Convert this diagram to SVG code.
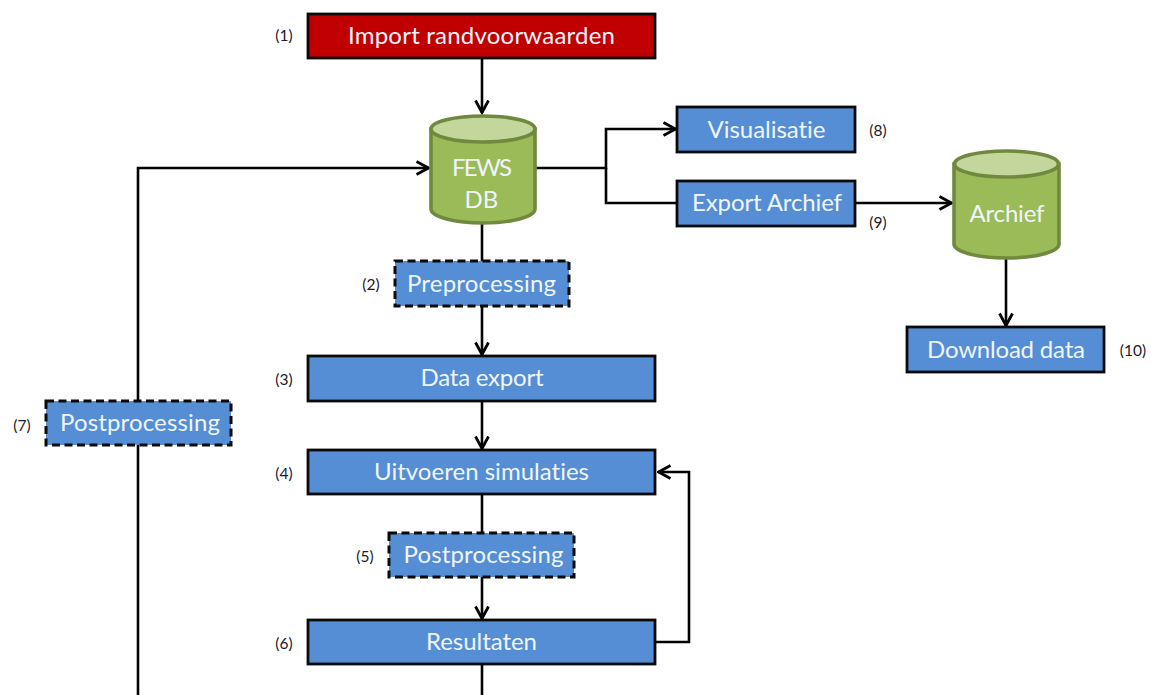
<svg xmlns="http://www.w3.org/2000/svg" width="1158" height="695" viewBox="0 0 1158 695">
<style>
.b{fill:#558ed5;stroke:#0a0a0a;stroke-width:2.8}
.d{stroke-width:3;stroke-dasharray:8 4.500}
.r{fill:#c00000}
.c{fill:#9bbb59;stroke:#71893f;stroke-width:3.6}
.t{fill:#c3d69b;stroke:#71893f;stroke-width:3.6}
.l{font-family:Lato,"Open Sans",sans-serif;font-size:24px;fill:#f0f5fb;text-anchor:middle;font-variant-ligatures:none}
.n{font-family:Lato,"Open Sans",sans-serif;font-size:15.5px;fill:#1a1a2a;text-anchor:middle}
.w{fill:none;stroke:#000;stroke-width:2.6}
</style>
<defs><marker id="a" viewBox="0 0 16 16" refX="14.500" refY="8" markerUnits="userSpaceOnUse" markerWidth="16" markerHeight="16" orient="auto"><path d="M2 1.500L14 8L2 14.500" fill="none" stroke="#000" stroke-width="2.800"/></marker></defs>
<g id="connectors">
<path class="w" d="M482 58V113" marker-end="url(#a)"/>
<path class="w" d="M482 223V261"/>
<path class="w" d="M482 306V355" marker-end="url(#a)"/>
<path class="w" d="M482 401V449" marker-end="url(#a)"/>
<path class="w" d="M482 494V533"/>
<path class="w" d="M482 577V619" marker-end="url(#a)"/>
<path class="w" d="M482 664V695"/>
<path class="w" d="M138 695V445"/>
<path class="w" d="M138 401V168H429" marker-end="url(#a)"/>
<path class="w" d="M536 168H606V129H676" marker-end="url(#a)"/>
<path class="w" d="M606 168V203H677"/>
<path class="w" d="M855 203H952" marker-end="url(#a)"/>
<path class="w" d="M1006 258V326" marker-end="url(#a)"/>
<path class="w" d="M655 642H689V472H658" marker-end="url(#a)"/>
</g>
<g id="n1"><rect class="b r" x="308" y="14" width="347" height="44"/><text class="l" x="481.500" y="44" textLength="267">Import randvoorwaarden</text><text class="n" x="284" y="40.500">(1)</text></g>
<g id="fews"><path class="c" d="M431 129V209C431 217 455 223 483 223C511 223 535 217 535 209V129Z"/><ellipse class="t" cx="483" cy="129" rx="52" ry="13"/><text class="l" x="482" y="176" textLength="60">FEWS</text><text class="l" x="481.500" y="208">DB</text></g>
<g id="n2"><rect class="b d" x="395" y="261" width="174" height="45"/><text class="l" x="481.500" y="292" textLength="149">Preprocessing</text><text class="n" x="371" y="289.500">(2)</text></g>
<g id="n3"><rect class="b" x="308" y="356" width="347" height="45"/><text class="l" x="482" y="385.500" textLength="123">Data export</text><text class="n" x="284" y="384.500">(3)</text></g>
<g id="n4"><rect class="b" x="308" y="450" width="347" height="44"/><text class="l" x="481.500" y="479.500" textLength="215">Uitvoeren simulaties</text><text class="n" x="284" y="478.500">(4)</text></g>
<g id="n5"><rect class="b d" x="389" y="533" width="185" height="44"/><text class="l" x="483.500" y="563" textLength="160">Postprocessing</text><text class="n" x="365" y="561.500">(5)</text></g>
<g id="n6"><rect class="b" x="308" y="620" width="347" height="44"/><text class="l" x="481.500" y="649.500" textLength="111">Resultaten</text><text class="n" x="284" y="648.500">(6)</text></g>
<g id="n7"><rect class="b d" x="46" y="401" width="185" height="44"/><text class="l" x="140" y="431" textLength="160">Postprocessing</text><text class="n" x="22" y="430.500">(7)</text></g>
<g id="n8"><rect class="b" x="677" y="107" width="178" height="45"/><text class="l" x="766.500" y="138" textLength="118">Visualisatie</text><text class="n" x="878" y="135.500">(8)</text></g>
<g id="n9"><rect class="b" x="677" y="181" width="178" height="45"/><text class="l" x="767" y="211" textLength="150">Export Archief</text><text class="n" x="878" y="227.500">(9)</text></g>
<g id="archief"><path class="c" d="M954 164V244C954 252 978 258 1007 258C1035 258 1059 252 1059 244V164Z"/><ellipse class="t" cx="1006.500" cy="164" rx="52" ry="13"/><text class="l" x="1007" y="222" textLength="75">Archief</text></g>
<g id="n10"><rect class="b" x="907" y="327" width="197" height="45"/><text class="l" x="1006" y="357.500" textLength="158">Download data</text><text class="n" x="1133" y="355.500">(10)</text></g>
</svg>
